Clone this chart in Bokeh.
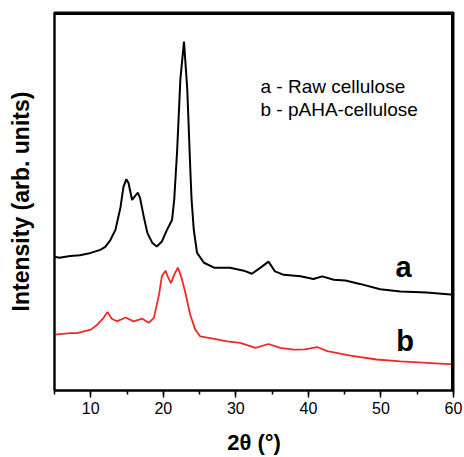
from bokeh.plotting import figure
from bokeh.models import Range1d, FixedTicker, SingleIntervalTicker
from bokeh.core.properties import value
from bokeh.embed import file_html
from bokeh.resources import INLINE

# Curve a - Raw cellulose
theta_a = [5.0, 5.7, 6.5, 7.2, 8.5, 10.0, 11.3, 12.0, 12.7, 13.4, 14.1, 14.5, 14.9, 15.2,
           15.7, 16.2, 16.5, 16.8, 17.3, 17.8, 18.5, 19.1, 19.8, 20.5, 21.2, 21.5, 21.9,
           22.35, 22.85, 23.3, 23.75, 23.9, 24.2, 24.65, 25.6, 27.0, 29.2, 31.1, 32.2,
           33.4, 34.5, 35.4, 36.6, 38.9, 40.7, 41.9, 43.5, 45.1, 47.1, 49.9, 52.7, 56.3, 60.0]
int_a = [35.4, 35.1, 35.4, 35.6, 35.8, 36.4, 37.2, 38.0, 39.8, 42.5, 48.5, 53.8, 55.9, 54.9,
         50.4, 51.7, 52.3, 50.9, 46.0, 41.7, 39.0, 38.1, 39.4, 42.5, 45.1, 50.4, 63.3,
         82.3, 92.3, 79.7, 57.0, 50.4, 42.5, 36.4, 33.8, 32.5, 32.5, 31.7, 30.9,
         32.5, 34.1, 31.5, 30.6, 30.2, 29.5, 30.2, 29.3, 29.1, 28.2, 26.8, 26.2, 25.9, 25.3]

# Curve b - pAHA-cellulose
theta_b = [5.0, 7.2, 8.1, 10.0, 10.9, 11.8, 12.3, 12.9, 13.6, 14.8, 15.9, 17.1, 18.0, 18.7,
           19.4, 19.8, 20.3, 20.6, 21.05, 21.5, 22.0, 22.45, 23.0, 23.7, 24.4, 25.1, 27.4,
           28.8, 30.6, 32.7, 34.5, 36.1, 38.0, 39.5, 41.2, 42.6, 45.8, 49.4, 52.7, 56.3, 60.0]
int_b = [14.8, 15.2, 15.2, 16.1, 17.4, 19.3, 20.8, 19.0, 18.3, 19.3, 18.3, 19.0, 17.9, 19.2,
         25.3, 30.2, 31.7, 30.2, 28.4, 30.6, 32.5, 30.2, 26.2, 20.1, 16.1, 14.3, 13.5,
         13.0, 12.6, 11.3, 12.3, 11.3, 10.8, 10.9, 11.5, 10.4, 9.2, 8.2, 7.7, 7.3, 6.9]

legend_lines = ["a - Raw cellulose", "b - pAHA-cellulose"]
curve_labels = ["a", "b"]

X_MIN, X_MAX = 5, 60
Y_MIN, Y_MAX = 0, 100

FONT = "Liberation Sans"
FRAME_W, FRAME_H = 399, 379   # plot frame size in pixels
INSET = 1.5                   # px inset of the top/right frame edges

p = figure(width=464, height=457, output_backend="svg", toolbar_location=None,
           x_range=Range1d(X_MIN, X_MAX), y_range=Range1d(Y_MIN, Y_MAX),
           min_border_left=54, min_border_right=11, min_border_top=12, min_border_bottom=66)
p.grid.visible = False
p.background_fill_color = "white"
p.border_fill_color = "white"
p.outline_line_color = "black"
p.outline_line_width = 2

p.line(theta_a, int_a, line_color="black", line_width=2.0)
p.line(theta_b, int_b, line_color="#ee2a24", line_width=1.8)

# top and right edges of the frame as one L-shaped polyline just inside the frame
dx = INSET * (X_MAX - X_MIN) / FRAME_W
dy = INSET * (Y_MAX - Y_MIN) / FRAME_H
p.line(x=[X_MIN, X_MAX - dx, X_MAX - dx], y=[Y_MAX - dy, Y_MAX - dy, Y_MIN],
       line_color="black", line_width=2.0)

p.text(x=[33.4, 33.4], y=[80.5, 74.4], text=legend_lines, text_font=value(FONT),
       text_font_size="19px", text_color="black", text_baseline="alphabetic", text_align="left")
p.text(x=[52.0, 52.1], y=[32.6, 13.0], text=curve_labels, text_font=value(FONT),
       text_font_size="29px", text_font_style="bold", text_color="black",
       text_baseline="alphabetic", text_align="left")

xa = p.xaxis[0]
xa.ticker = SingleIntervalTicker(interval=10, num_minor_ticks=2)
xa.axis_line_color = "black"
xa.axis_line_width = 1.8
xa.major_tick_line_color = "black"
xa.major_tick_line_width = 1.5
xa.major_tick_out = 7
xa.major_tick_in = 0
xa.minor_tick_line_color = "black"
xa.minor_tick_line_width = 1.5
xa.minor_tick_out = 4
xa.minor_tick_in = 0
xa.major_label_text_font = FONT
xa.major_label_text_font_size = "16px"
xa.major_label_text_color = "black"
xa.major_label_standoff = 4
xa.axis_label = "2θ (°)"
xa.axis_label_text_font = FONT
xa.axis_label_text_font_size = "22px"
xa.axis_label_text_font_style = "bold"
xa.axis_label_text_color = "black"
xa.axis_label_standoff = 13

ya = p.yaxis[0]
ya.ticker = FixedTicker(ticks=[])
ya.axis_line_color = "black"
ya.axis_line_width = 1.8
ya.major_tick_out = 0
ya.major_tick_in = 0
ya.minor_tick_out = 0
ya.minor_tick_in = 0
ya.major_label_text_font_size = "0px"
ya.axis_label = "Intensity (arb. units)"
ya.axis_label_text_font = FONT
ya.axis_label_text_font_size = "23px"
ya.axis_label_text_font_style = "bold"
ya.axis_label_text_color = "black"
ya.axis_label_standoff = 21

open("out.html", "w").write(file_html(p, INLINE))
